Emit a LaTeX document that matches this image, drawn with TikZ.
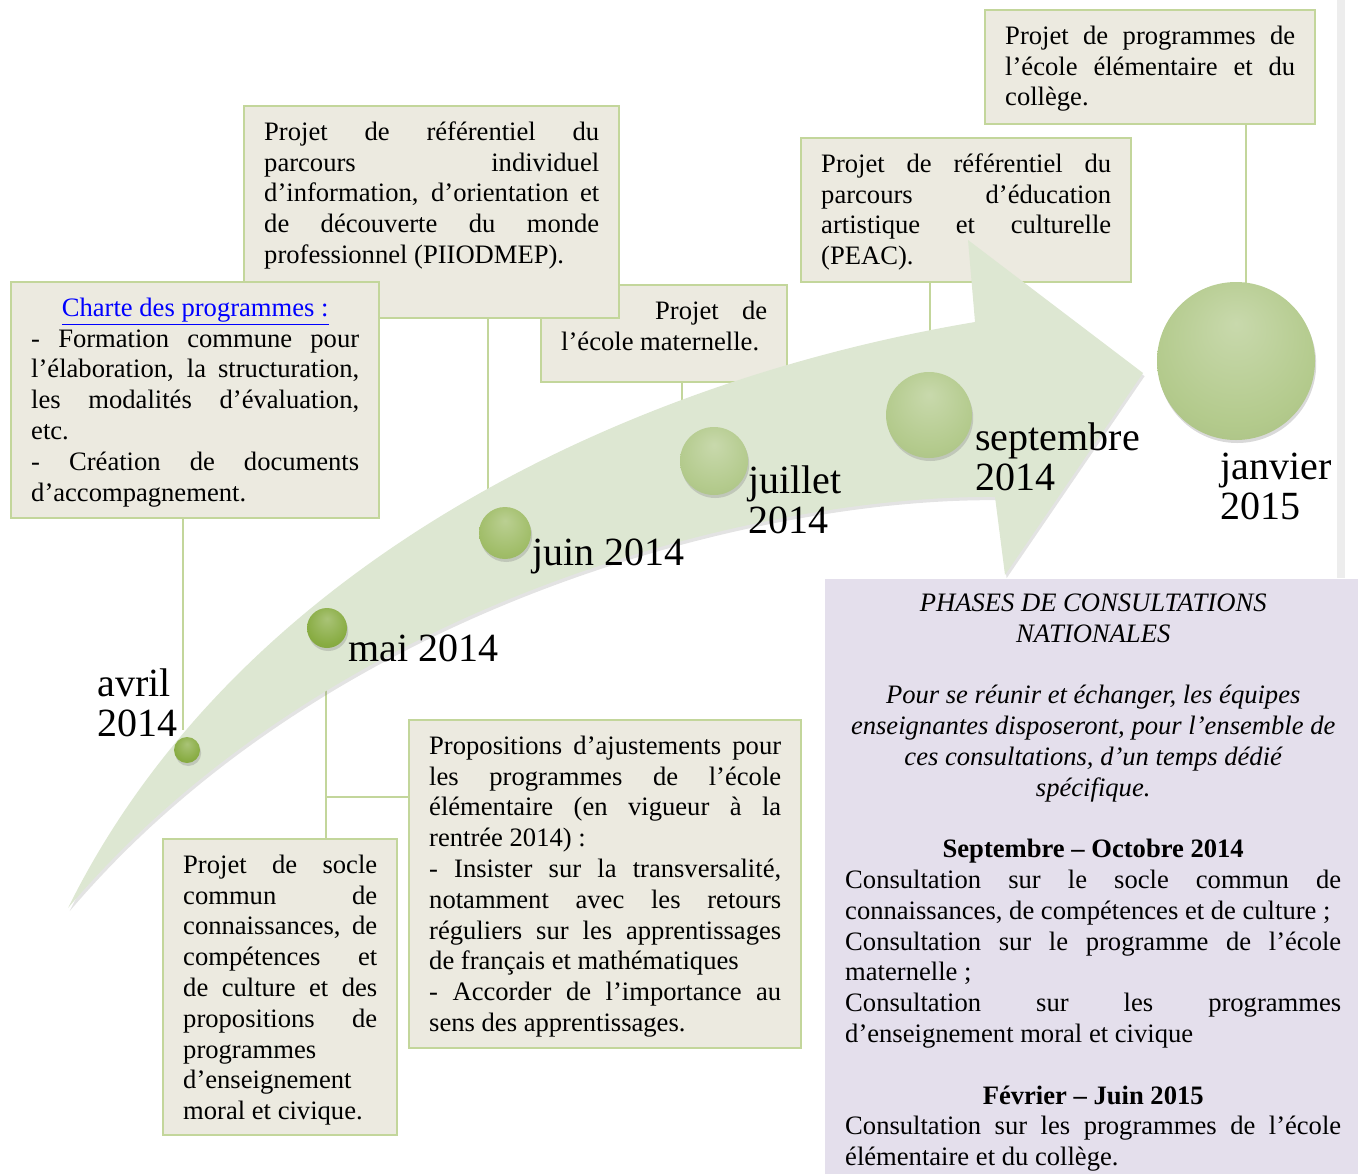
\documentclass[tikz,border=0pt]{standalone}
\usepackage{fontspec}
\setmainfont{Liberation Serif}
\usetikzlibrary{shadows}

\definecolor{boxfill}{RGB}{236,234,224}
\definecolor{boxline}{RGB}{195,214,155}
\definecolor{arrowfill}{RGB}{221,231,210}
\definecolor{phasefill}{RGB}{228,223,236}
\definecolor{beaddark}{RGB}{136,172,66}
\definecolor{beadmid}{RGB}{160,189,104}
\definecolor{beadpale}{RGB}{179,202,140}
\colorlet{beadtone}{beadpale}
\pgfdeclareradialshading[beadtone]{beadshade}{\pgfpoint{0bp}{12bp}}{%
    color(0bp)=(beadtone!72!white); color(26bp)=(beadtone); color(44bp)=(beadtone!90!black);
    color(50bp)=(beadtone!70!black)}

\setlength{\parindent}{0pt}
\hyphenpenalty=10000
\exhyphenpenalty=10000
\tolerance=10000
\hbadness=10000

\begin{document}
\begin{tikzpicture}[x = 0.5pt, y = -0.5pt,
        every node/.style = {
            font = \fontsize{13.3}{15.4}\selectfont
        },
        infobox/.style = {
            draw = boxline,
            fill = boxfill,
            line width = 1.2pt,
            anchor = north west,
            inner xsep = 10pt,
            inner ysep = 8pt,
            text height = 9pt,
            text depth = #1,
            align = justify
        },
        link/.style = {
            draw = boxline,
            line width = 1pt
        },
        bead/.style 2 args = {
            circle,
            inner sep = 0pt,
            minimum size = #1,
            /utils/exec = {\colorlet{beadtone}{#2}},
            shading = beadshade,
            drop shadow = {opacity = 0.3, shadow xshift = 0.6pt, shadow yshift = -1.5pt}
        },
        datelabel/.style = {
            font = \fontsize{20}{20}\selectfont,
            inner sep = 0pt,
            align = left,
            anchor = base west
        }]
    \useasboundingbox (0,0) rectangle (1358,1173);
    \fill[black!7] (1337,0) rectangle (1345,578);

    \node[infobox = 23.5pt, text width = 103pt] (maternelle) at (540,284)
        {\hspace*{47pt}Projet de\linebreak l’école maternelle.};
    \node[infobox = 81pt, text width = 167.5pt] (piiodmep) at (243,105)
        {Projet de référentiel du\linebreak parcours individuel\linebreak d’information, d’orientation et\linebreak de découverte du monde\linebreak professionnel (PIIODMEP).};
    \node[infobox = 93pt, text width = 164pt] (charte) at (10,281)
        {{\centering\textcolor{blue}{\underline{Charte des programmes :}}\par}
        - Formation commune pour\linebreak l’élaboration, la structuration,\linebreak les modalités d’évaluation,\linebreak etc.\par
        - Création de documents\linebreak d’accompagnement.};
    \node[infobox = 47pt, text width = 145pt] (peac) at (800,137)
        {Projet de référentiel du\linebreak parcours d’éducation\linebreak artistique et culturelle\linebreak (PEAC).};
    \node[infobox = 32pt, text width = 145pt] (college) at (984,9)
        {Projet de programmes de\linebreak l’école élémentaire et du\linebreak collège.};
    \node[infobox = 123pt, text width = 97pt] (socle) at (162,838)
        {Projet de socle\linebreak commun de\linebreak connaissances, de\linebreak compétences et\linebreak de culture et des\linebreak propositions de\linebreak programmes\linebreak d’enseignement\linebreak moral et civique.};
    \node[infobox = 139pt, text width = 176pt] (ajust) at (408,719)
        {Propositions d’ajustements pour\linebreak les programmes de l’école\linebreak élémentaire (en vigueur à la\linebreak rentrée 2014) :\par
        - Insister sur la transversalité,\linebreak notamment avec les retours\linebreak réguliers sur les apprentissages\linebreak de français et mathématiques\par
        - Accorder de l’importance au\linebreak sens des apprentissages.};
    \node[infobox = 274pt, text height = 8pt, text width = 248pt, fill = phasefill, draw = none] (phases) at (824,578)
        {{\centering\itshape PHASES DE CONSULTATIONS\\NATIONALES\par}
        \vspace{15.4pt}
        {\centering\itshape Pour se réunir et échanger, les équipes\\enseignantes disposeront, pour l’ensemble de\\ces consultations, d’un temps dédié\\spécifique.\par}
        \vspace{15.4pt}
        {\centering\bfseries Septembre – Octobre 2014\par}
        Consultation sur le socle commun de\linebreak connaissances, de compétences et de culture ;\par
        Consultation sur le programme de l’école\linebreak maternelle ;\par
        Consultation sur les programmes\linebreak d’enseignement moral et civique\par
        \vspace{15.4pt}
        {\centering\bfseries Février – Juin 2015\par}
        Consultation sur les programmes de l’école\linebreak élémentaire et du collège.};

    \coordinate (k-avril) at (183,730);
    \coordinate (k-mai) at (326,670);
    \coordinate (k-juin) at (488,495);
    \coordinate (k-juillet) at (682,420);
    \coordinate (k-sept) at (930,340);
    \coordinate (k-janv) at (1246,320);
    \coordinate (fork) at (326,797);
    \draw[link] (charte.south -| k-avril) -- (k-avril);
    \draw[link] (piiodmep.south -| k-juin) -- (k-juin);
    \draw[link] (maternelle.south -| k-juillet) -- (k-juillet);
    \draw[link] (peac.south -| k-sept) -- (k-sept);
    \draw[link] (college.south -| k-janv) -- (k-janv);
    \draw[link] (k-mai) -- (k-mai |- socle.north);
    \draw[link] (fork) -- (fork -| ajust.west);

    \fill[arrowfill, drop shadow = {opacity = 0.22, shadow xshift = 0.8pt, shadow yshift = -1.6pt}]
        (68,908) .. controls (230,580) and (600,385) .. (975,322) -- (968,240) -- (1143,373)
        -- (1005,575) -- (995,497) .. controls (760,495) and (330,600) .. (68,908) -- cycle;

    \node[bead = {13pt}{beaddark}] (avril) at (187,750) {};
    \node[bead = {20pt}{beaddark}] (mai) at (327,628) {};
    \node[bead = {26pt}{beadmid}] (juin) at (505,533) {};
    \node[bead = {34pt}{beadpale}] (juillet) at (714,461) {};
    \node[bead = {43pt}{beadpale}] (sept) at (929,415) {};
    \node[bead = {79pt}{beadpale}] (janv) at (1236,361) {};

    \node[datelabel] (l-avril) at (97,736) {avril\\2014};
    \node[datelabel] (l-mai) at (348,661) {mai 2014};
    \node[datelabel] (l-juin) at (532,565) {juin 2014};
    \node[datelabel] (l-juillet) at (748,533) {juillet\\2014};
    \node[datelabel] (l-sept) at (975,490) {septembre\\2014};
    \node[datelabel] (l-janv) at (1220,519) {janvier\\2015};
\end{tikzpicture}
\end{document}
